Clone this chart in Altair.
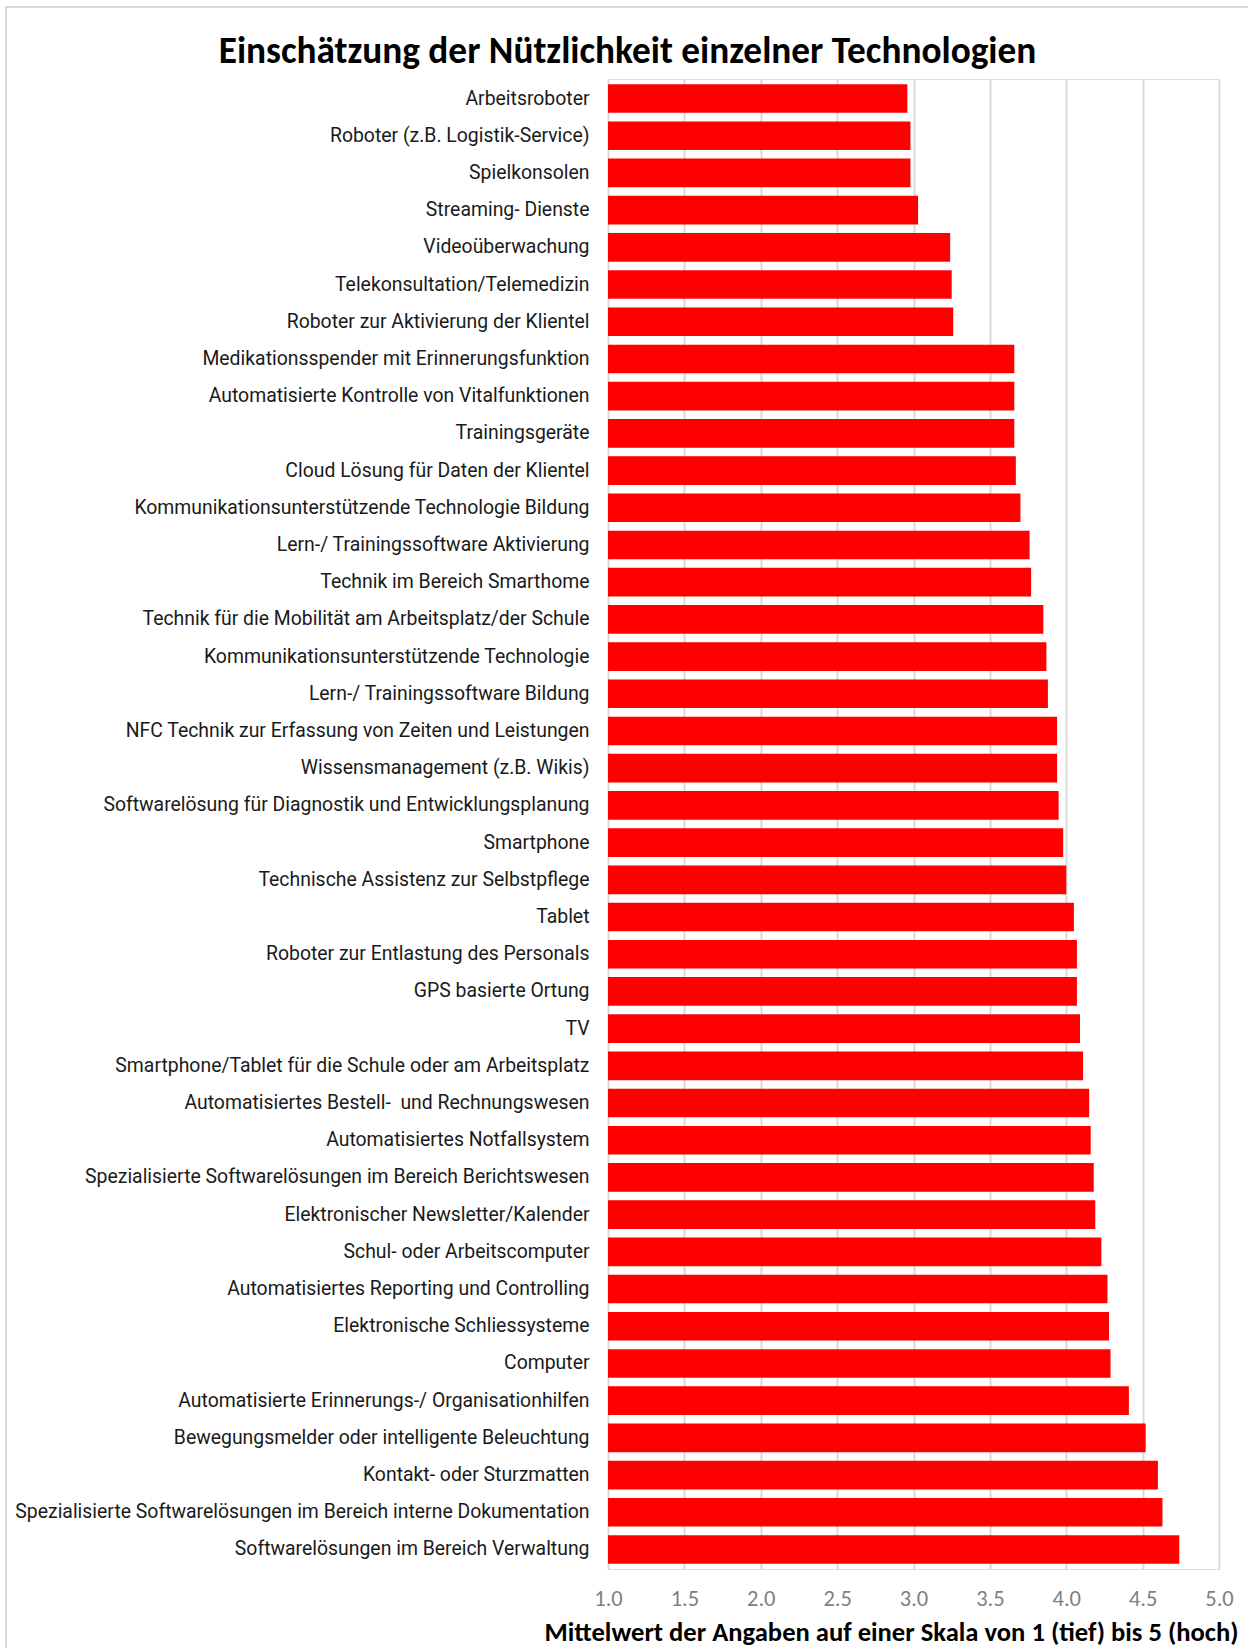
import altair as alt
import pandas as pd

# Technologies, top to bottom as listed in the chart
technologien = [
    "Arbeitsroboter",
    "Roboter (z.B. Logistik-Service)",
    "Spielkonsolen",
    "Streaming- Dienste",
    "Videoüberwachung",
    "Telekonsultation/Telemedizin\u00a0",
    "Roboter zur Aktivierung der Klientel\u00a0",
    "Medikationsspender mit Erinnerungsfunktion",
    "Automatisierte Kontrolle von Vitalfunktionen\u00a0",
    "Trainingsgeräte\u00a0",
    "Cloud Lösung für Daten der Klientel",
    "Kommunikationsunterstützende Technologie Bildung",
    "Lern-/ Trainingssoftware Aktivierung",
    "Technik im Bereich Smarthome",
    "Technik für die Mobilität am Arbeitsplatz/der Schule",
    "Kommunikationsunterstützende Technologie\u00a0",
    "Lern-/ Trainingssoftware Bildung",
    "NFC Technik zur Erfassung von Zeiten und Leistungen",
    "Wissensmanagement (z.B. Wikis)",
    "Softwarelösung für Diagnostik und Entwicklungsplanung",
    "Smartphone",
    "Technische Assistenz zur Selbstpflege\u00a0",
    "Tablet",
    "Roboter zur Entlastung des Personals\u00a0",
    "GPS basierte Ortung",
    "TV",
    "Smartphone/Tablet für die Schule oder am Arbeitsplatz",
    "Automatisiertes Bestell-\u00a0 und Rechnungswesen",
    "Automatisiertes Notfallsystem",
    "Spezialisierte Softwarelösungen im Bereich Berichtswesen",
    "Elektronischer Newsletter/Kalender",
    "Schul- oder Arbeitscomputer",
    "Automatisiertes Reporting und Controlling",
    "Elektronische Schliessysteme",
    "Computer",
    "Automatisierte Erinnerungs-/ Organisationhilfen\u00a0",
    "Bewegungsmelder oder intelligente Beleuchtung",
    "Kontakt- oder Sturzmatten",
    "Spezialisierte Softwarelösungen im Bereich interne Dokumentation",
    "Softwarelösungen im Bereich Verwaltung",
]

# Mean rating (scale 1 = low ... 5 = high)
mittelwerte = [
    2.96, 2.98, 2.98, 3.03, 3.24, 3.25, 3.26, 3.66, 3.66, 3.66,
    3.67, 3.70, 3.76, 3.77, 3.85, 3.87, 3.88, 3.94, 3.94, 3.95,
    3.98, 4.00, 4.05, 4.07, 4.07, 4.09, 4.11, 4.15, 4.16, 4.18,
    4.19, 4.23, 4.27, 4.28, 4.29, 4.41, 4.52, 4.60, 4.63, 4.74,
]

x_ticks = [1.0, 1.5, 2.0, 2.5, 3.0, 3.5, 4.0, 4.5, 5.0]
skala_min = 1

df = pd.DataFrame({"Technologie": technologien, "Mittelwert": mittelwerte})

PLOT_W = 611
PLOT_H = 1490
PAD_L, PAD_T = 608, 79
PAD_R = 1248 - PAD_L - PLOT_W
PAD_B = 1648 - PAD_T - PLOT_H

label_font = "Roboto, Liberation Sans, sans-serif"
calibri_like = "Carlito, Lato, sans-serif"

bars = alt.Chart(df).mark_bar(color="#ff0000").encode(
    x=alt.X(
        "Mittelwert:Q",
        scale=alt.Scale(domain=[1, 5], nice=False, zero=False),
        axis=alt.Axis(
            values=x_ticks,
            format=".1f",
            grid=True,
            gridColor="#d9d9d9",
            gridWidth=2,
            domain=False,
            ticks=False,
            labelFlush=False,
            labelFont=calibri_like,
            labelFontSize=22.5,
            labelColor="#7f7f7f",
            labelPadding=18,
            title="Mittelwert der Angaben auf einer Skala von 1 (tief) bis 5 (hoch)",
            titleFont=calibri_like,
            titleFontSize=26.6,
            titleFontWeight="bold",
            titleColor="#000000",
            titleAlign="right",
            titleAnchor="end",
            titleBaseline="alphabetic",
            titleX=630,
            titleY=71,
        ),
    ),
    x2=alt.datum(skala_min),
    y=alt.Y(
        "Technologie:N",
        sort=technologien,
        scale=alt.Scale(paddingInner=0.23, paddingOuter=0.14),
        axis=alt.Axis(
            title=None,
            domain=False,
            ticks=False,
            grid=False,
            labelFont=label_font,
            labelFontSize=19.4,
            labelColor="#1a1a1a",
            labelPadding=19,
            labelLimit=700,
        ),
    ),
)

# light grey frame around the whole figure
FRAME_TOP = 7 - PAD_T
frame = alt.Chart(pd.DataFrame({"f": [0]})).mark_rect(
    fill=None, stroke="#d9d9d9", strokeWidth=2
).encode(
    x=alt.value(6 - PAD_L),
    x2=alt.value(PLOT_W + PAD_R + 20),
    y=alt.value(FRAME_TOP),
    y2=alt.value(PLOT_H + PAD_B + 20),
)

# the title is placed relative to the frame's top edge, so a negative offset
# pulls it back down into the figure, just above the plot
TITLE_OFFSET = -94.5

chart = alt.layer(frame, bars).properties(
    width=PLOT_W,
    height=PLOT_H,
    autosize=alt.AutoSizeParams(type="none"),
    padding={"left": PAD_L, "top": PAD_T, "right": PAD_R, "bottom": PAD_B},
    title=alt.TitleParams(
        text="Einschätzung der Nützlichkeit einzelner Technologien",
        font=calibri_like,
        fontSize=37.3,
        fontWeight="bold",
        color="#000000",
        anchor="middle",
        frame="group",
        align="center",
        baseline="alphabetic",
        dx=-286,
        offset=TITLE_OFFSET,
    ),
).configure_view(stroke=None).configure(background="white")

chart.save("out.html", embed_options={"renderer": "svg", "actions": False})
